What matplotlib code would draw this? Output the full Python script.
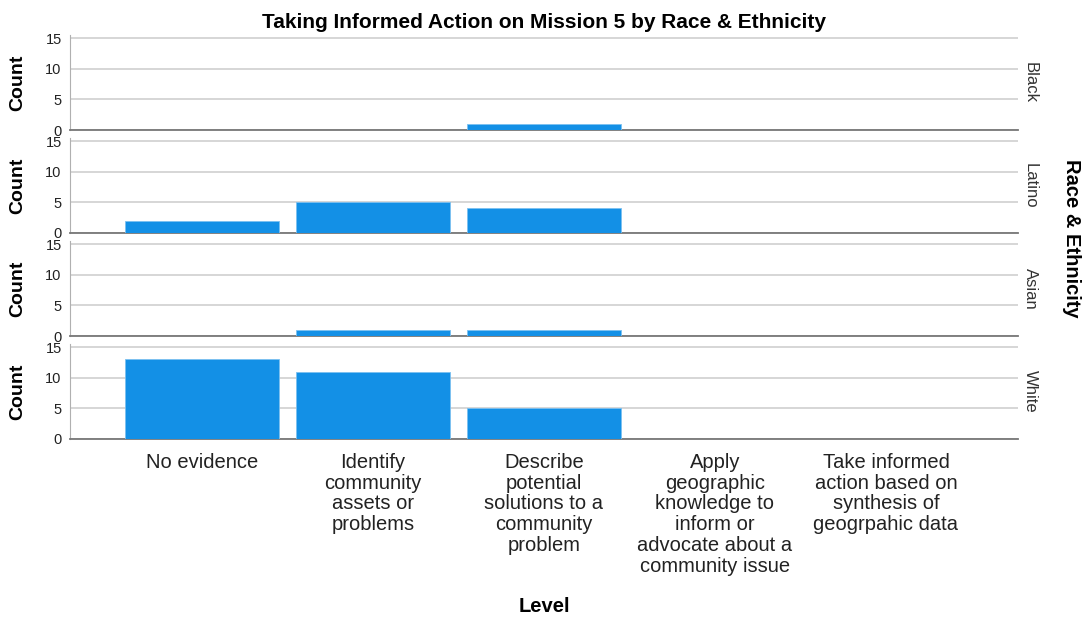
import numpy as np
import matplotlib
matplotlib.use('Agg')
import matplotlib.pyplot as plt

plt.rcParams['font.family'] = ['Liberation Sans', 'DejaVu Sans']

levels = ['No evidence',
          'Identify\ncommunity\nassets or\nproblems',
          'Describe\npotential\nsolutions to a\ncommunity\nproblem',
          'Apply\ngeographic\nknowledge to\ninform or\nadvocate about a\ncommunity issue',
          'Take informed\naction based on\nsynthesis of\ngeogrpahic data']
groups = ['Black', 'Latino', 'Asian', 'White']
black = [0, 0, 1, 0, 0]
latino = [2, 5, 4, 0, 0]
asian = [0, 1, 1, 0, 0]
white = [13, 11, 5, 0, 0]
counts = [black, latino, asian, white]

W, H = 1086, 621
fig = plt.figure(figsize=(W / 100, H / 100), dpi=100)

left, right = 70, 1018
bottoms = [130, 233, 336, 439]
panel_h = 95
x = np.arange(len(levels))

axes = []
for g, vals, b in zip(groups, counts, bottoms):
    ax = fig.add_axes([left / W, 1 - b / H, (right - left) / W, panel_h / H])
    ax.bar(x, vals, width=0.895, color='#1390e6', edgecolor='#7cc0f0', linewidth=0.6, zorder=3)
    ax.set_xlim(-0.772, 4.772)
    ax.set_ylim(0, 15.5)
    ax.set_yticks([0, 5, 10, 15])
    ax.yaxis.grid(True, color='#d0d0d0', linewidth=1.2, zorder=0)
    ax.set_axisbelow(True)
    for s in ['top', 'right']:
        ax.spines[s].set_visible(False)
    ax.spines['left'].set_color('#b0b0b0')
    ax.spines['bottom'].set_color('#777777')
    ax.spines['bottom'].set_linewidth(1.3)
    ax.tick_params(axis='y', length=0, labelsize=10.5, pad=6, labelcolor='#222222')
    ax.tick_params(axis='x', length=0)
    ax.set_xticks(x)
    ax.set_xticklabels([])
    ax.set_ylabel('Count', fontsize=14, fontweight='bold')
    ax.yaxis.set_label_coords(-44 / (right - left), 0.5)
    ax.text(1 + 12 / (right - left), 0.5, g, transform=ax.transAxes, rotation=-90,
            ha='center', va='center', fontsize=12, color='#333333')
    axes.append(ax)

axes[-1].set_xticklabels(levels, fontsize=14.5, linespacing=1.12, va='top', color='#222222')
axes[-1].tick_params(axis='x', pad=10)

fig.text(544 / W, 1 - 22 / H, 'Taking Informed Action on Mission 5 by Race & Ethnicity',
         ha='center', va='center', fontsize=15, fontweight='bold')
fig.text(544 / W, 1 - 607 / H, 'Level', ha='center', va='center', fontsize=14.5, fontweight='bold')
fig.text(1071 / W, 1 - 238 / H, 'Race & Ethnicity', ha='center', va='center', rotation=-90,
         fontsize=14.5, fontweight='bold')

fig.savefig('out.png', dpi=100)
